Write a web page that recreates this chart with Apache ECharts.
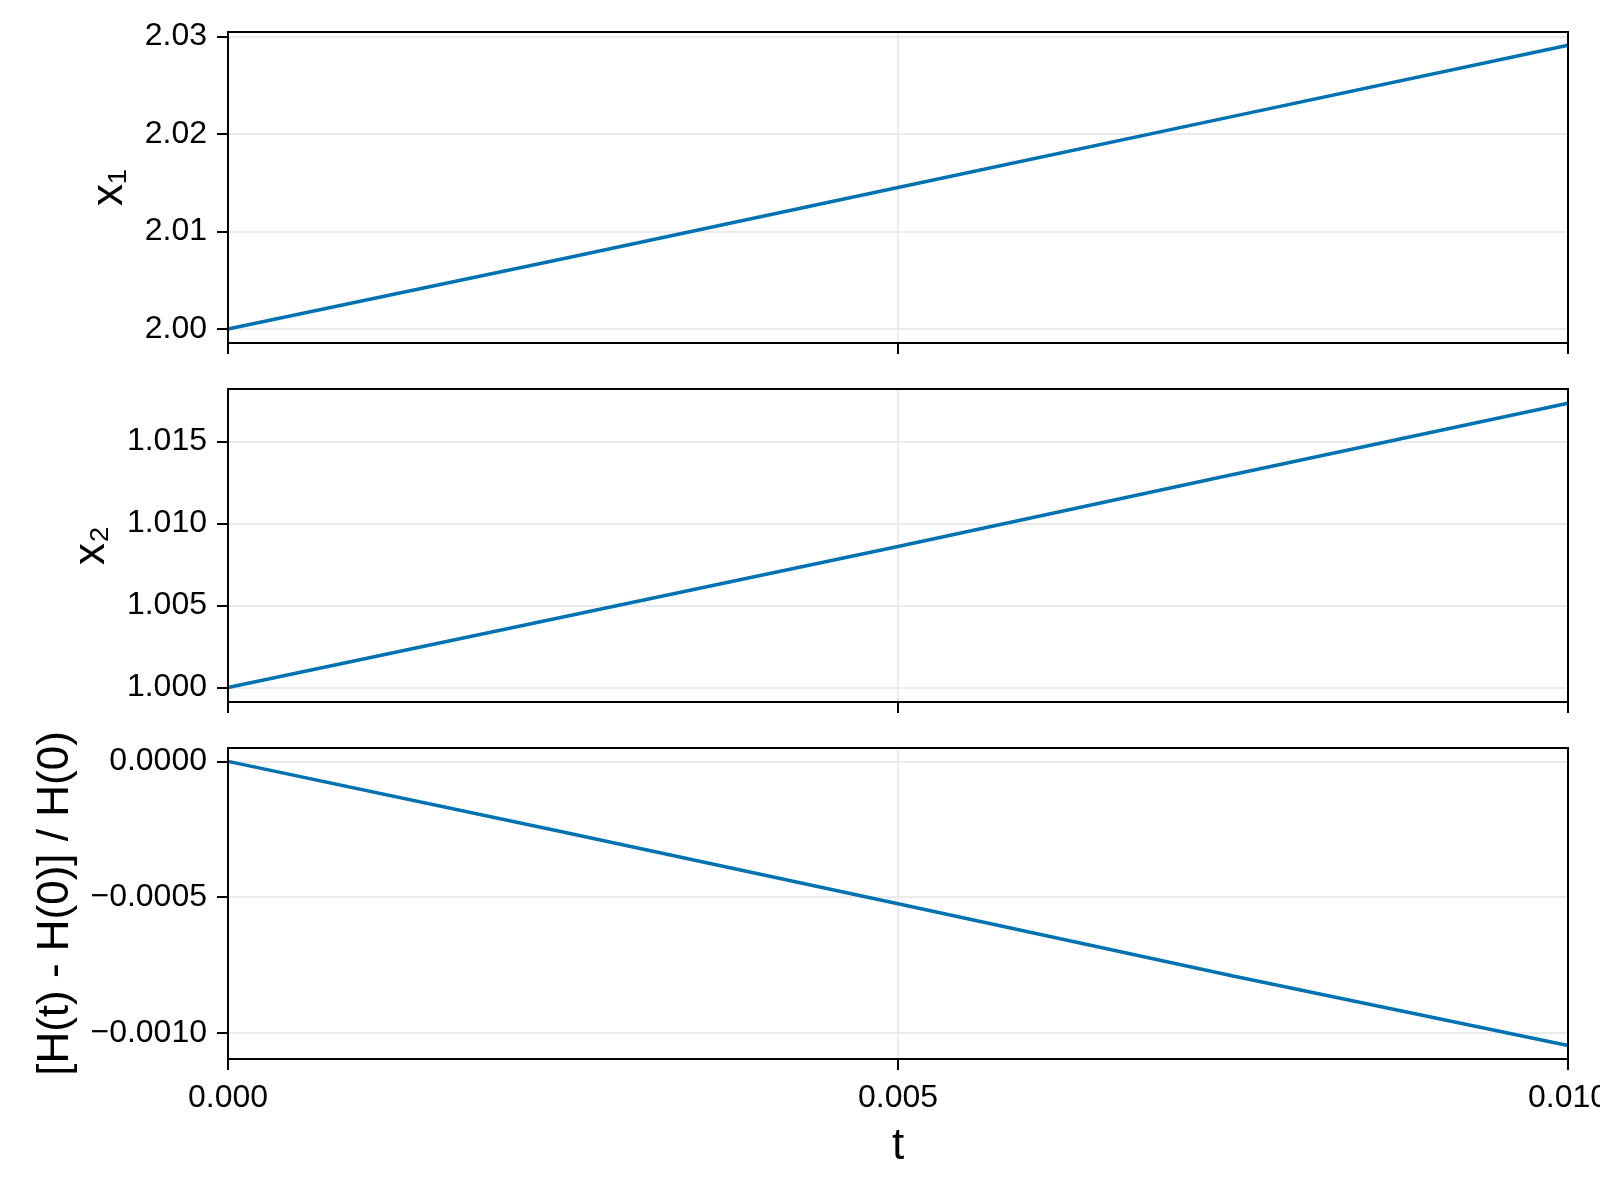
<!DOCTYPE html>
<html>
<head>
<meta charset="utf-8">
<script src="https://cdn.jsdelivr.net/npm/echarts@6/dist/echarts.min.js"></script>
<style>
html,body{margin:0;padding:0;background:#fff;}
#chart{width:1600px;height:1200px;}
</style>
</head>
<body>
<div id="chart"></div>
<script>
const tValues = [0, 0.0025, 0.005, 0.0075, 0.01];
const x1Values = [2.0, 2.0072, 2.0145, 2.0218, 2.0291];
const x2Values = [1.0, 1.0043, 1.0086, 1.0130, 1.01734];
const hValues = [0, -0.00026, -0.000524, -0.00079, -0.001046];
const x1Ticks = [2.00, 2.01, 2.02, 2.03];
const x2Ticks = [1.000, 1.005, 1.010, 1.015];
const hTicks = [0, -0.0005, -0.0010];
const tTicks = [0, 0.005, 0.01];
const yNames = ['x\u2081', 'x\u2082', '[H(t) - H(0)] / H(0)'];
const xName = 't';

const FONT = 'Liberation Sans';
const BLUE = '#0072b2';
const GRIDC = '#e4e4e4';

function fmt(v, d) {
  return v.toFixed(d).replace('-', '\u2212');
}

const grids = [
  {left: 228, right: 32, top: 32, height: 311},
  {left: 228, right: 32, top: 389, height: 313},
  {left: 228, right: 32, top: 748, height: 311}
].map(g => Object.assign(g, {show: true, borderColor: '#000', borderWidth: 2, z: 10, outerBoundsMode: 'none', containLabel: false}));

const yCfg = [
  {ticks: x1Ticks, min: 1.99856, max: 2.03045, dec: 2, gap: 96},
  {ticks: x2Ticks, min: 0.99912, max: 1.01821, dec: 3, gap: 114},
  {ticks: hTicks, min: -0.0010957, max: 0.0000493, dec: 4, gap: 150}
];

const xAxes = [0, 1, 2].map(i => ({
  type: 'value', gridIndex: i, min: 0, max: 0.01,
  axisLine: {show: true, onZero: false, lineStyle: {color: '#000', width: 2}},
  axisTick: {show: true, length: 11, lineStyle: {color: '#000', width: 2}, customValues: tTicks},
  axisLabel: {show: i === 2, customValues: tTicks, formatter: v => fmt(v, 3), fontFamily: FONT, fontSize: 32, color: '#000', margin: 23, showMinLabel: true, showMaxLabel: true, hideOverlap: false},
  splitLine: {show: true, showMinLine: false, showMaxLine: false, lineStyle: {color: GRIDC, width: 1.5}},
  name: i === 2 ? xName : '',
  nameLocation: 'middle', nameGap: 66,
  nameMoveOverlap: false,
  nameTextStyle: {fontFamily: FONT, fontSize: 44, color: '#000'}
}));

const yAxes = yCfg.map((c, i) => ({
  type: 'value', gridIndex: i, min: c.min, max: c.max,
  axisLine: {show: true, onZero: false, lineStyle: {color: '#000', width: 2}},
  axisTick: {show: true, length: 11, lineStyle: {color: '#000', width: 2}, customValues: c.ticks},
  axisLabel: {customValues: c.ticks, formatter: v => fmt(v, c.dec), fontFamily: FONT, fontSize: 32, color: '#000', margin: 21, showMinLabel: true, showMaxLabel: true, hideOverlap: false},
  splitLine: {show: true, lineStyle: {color: GRIDC, width: 1.5}},
  name: yNames[i], nameLocation: 'middle', nameGap: c.gap,
  nameMoveOverlap: false,
  nameTextStyle: {fontFamily: FONT, fontSize: 44, color: '#000'}
}));

const seriesVals = [x1Values, x2Values, hValues];
const series = seriesVals.map((vals, i) => ({
  type: 'line', xAxisIndex: i, yAxisIndex: i,
  data: tValues.map((t, k) => [t, vals[k]]),
  showSymbol: false, symbol: 'none',
  lineStyle: {color: BLUE, width: 3.5},
  itemStyle: {color: BLUE},
  clip: true
}));

const chart = echarts.init(document.getElementById('chart'), null, {renderer: 'canvas'});
chart.setOption({
  animation: false,
  backgroundColor: '#fff',
  grid: grids,
  xAxis: xAxes,
  yAxis: yAxes,
  series: series
});
</script>
</body>
</html>
